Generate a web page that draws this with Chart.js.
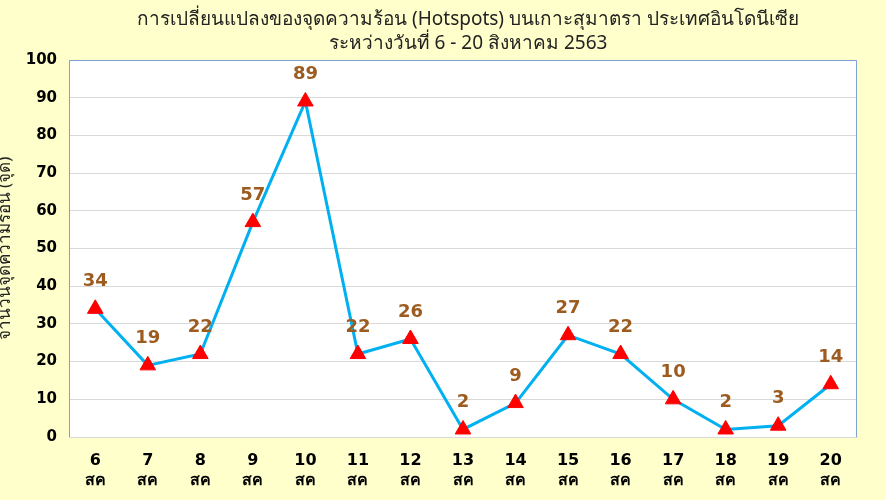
<!DOCTYPE html>
<html><head><meta charset="utf-8">
<script src="https://cdn.jsdelivr.net/npm/chart.js@4"></script>
<style>
html,body{margin:0;padding:0;background:#FFFFCC;}
#wrap{width:886px;height:500px;position:relative;}
</style></head>
<body><div id="wrap"><canvas id="c" width="886" height="500"></canvas></div>
<script>
const dayLabels = ["6","7","8","9","10","11","12","13","14","15","16","17","18","19","20"];
const monthLabel = "สค";
const hotspots = [34,19,22,57,89,22,26,2,9,27,22,10,2,3,14];
const titleLines = ["การเปลี่ยนแปลงของจุดความร้อน (Hotspots) บนเกาะสุมาตรา ประเทศอินโดนีเซีย","ระหว่างวันที่ 6 - 20 สิงหาคม 2563"];
const yTitle = "จำนวนจุดความร้อน (จุด)";
const yTicks = {min:0,max:100,step:10};

const bgPlugin = {
  id:'bg',
  beforeDraw(chart){
    const {ctx, chartArea:a} = chart;
    ctx.save();
    ctx.fillStyle = '#FFFFCC';
    ctx.fillRect(0,0,chart.width,chart.height);
    ctx.fillStyle = '#FFFFFF';
    ctx.fillRect(a.left,a.top,a.right-a.left,a.bottom-a.top);
    // title
    ctx.fillStyle = '#222';
    ctx.font = '19px "Noto Sans", Tahoma, sans-serif';
    ctx.textAlign = 'center';
    ctx.textBaseline = 'middle';
    const cx = (a.left+a.right)/2 + 5;
    ctx.fillText(titleLines[0], cx, 20);
    ctx.fillText(titleLines[1], cx, 44);
    ctx.restore();
  },
  afterDatasetsDraw(chart){
    const {ctx, chartArea:a} = chart;
    ctx.save();
    ctx.strokeStyle = '#7FA1CF';
    ctx.lineWidth = 1;
    ctx.beginPath();
    ctx.moveTo(a.left+0.5,a.bottom); ctx.lineTo(a.left+0.5,a.top+0.5);
    ctx.lineTo(a.right-0.5,a.top+0.5); ctx.lineTo(a.right-0.5,a.bottom);
    ctx.stroke();
    // y axis title (clipped at left edge)
    ctx.translate(5,(a.top+a.bottom)/2);
    ctx.rotate(-Math.PI/2);
    ctx.fillStyle = '#222';
    ctx.font = '17px "Noto Sans", Tahoma, sans-serif';
    ctx.textAlign = 'center';
    ctx.textBaseline = 'middle';
    ctx.fillText(yTitle,0,0);
    ctx.restore();
    // value labels
    const meta = chart.getDatasetMeta(0);
    ctx.save();
    ctx.fillStyle = '#9C5B1F';
    ctx.font = 'bold 18px "DejaVu Sans", Verdana, sans-serif';
    ctx.textAlign = 'center';
    ctx.textBaseline = 'middle';
    meta.data.forEach((p,i)=>{
      ctx.fillText(String(hotspots[i]), p.x, p.y-27);
    });
    ctx.restore();
  }
};

new Chart(document.getElementById('c'),{
  type:'line',
  data:{
    labels: dayLabels.map(d=>[d,monthLabel]),
    datasets:[{
      data: hotspots,
      borderColor:'#00B0F0',
      borderWidth:3,
      tension:0,
      pointStyle:'triangle',
      pointRadius:9,
      pointHoverRadius:9,
      pointBackgroundColor:'#FF0000',
      pointBorderColor:'#FF0000',
      pointBorderWidth:1
    }]
  },
  options:{
    responsive:false,
    animation:false,
    devicePixelRatio:1,
    layout:{padding:{left:0,right:29,top:60,bottom:0}},
    plugins:{
      legend:{display:false},
      tooltip:{enabled:false},
      title:{display:false}
    },
    scales:{
      x:{
        offset:true,
        grid:{display:false,drawTicks:false},
        border:{display:true,color:'#D9D9D9',width:1},
        ticks:{color:'#000',font:{family:'"DejaVu Sans", Verdana, sans-serif',size:16,weight:'bold',lineHeight:1.3},padding:13,maxRotation:0,autoSkip:false},
        afterFit(s){ s.height = 63; }
      },
      y:{
        min:yTicks.min,max:yTicks.max,
        grid:{color:'#D9D9D9',drawTicks:false},
        border:{display:false},
        ticks:{stepSize:yTicks.step,color:'#000',font:{family:'"DejaVu Sans", Verdana, sans-serif',size:15,weight:'bold'},padding:12},
        afterFit(s){ s.width = 69; }
      }
    }
  },
  plugins:[bgPlugin]
});
</script></body></html>
